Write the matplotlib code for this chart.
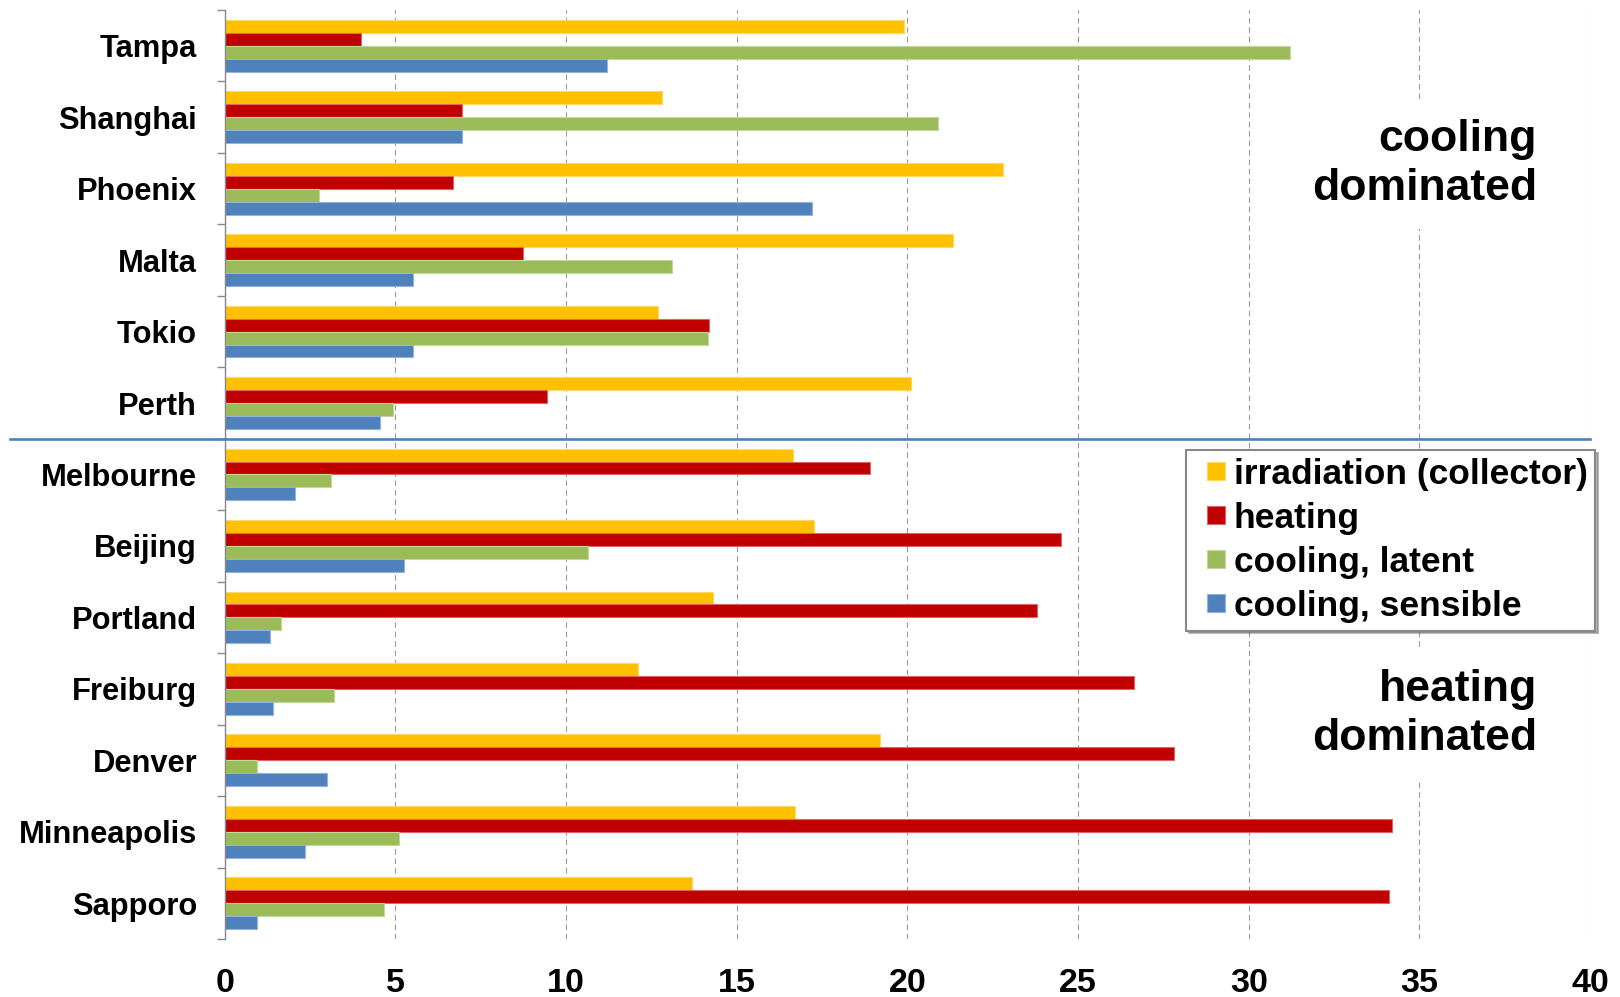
import matplotlib
matplotlib.use("Agg")
import matplotlib.pyplot as plt
from matplotlib.legend_handler import HandlerPatch
from matplotlib.patches import Rectangle
import numpy as np

plt.rcParams['font.family'] = ['Liberation Sans', 'DejaVu Sans']
plt.rcParams['font.weight'] = 'bold'

cities = ["Tampa", "Shanghai", "Phoenix", "Malta", "Tokio", "Perth",
          "Melbourne", "Beijing", "Portland", "Freiburg", "Denver",
          "Minneapolis", "Sapporo"]

irradiation = [19.9, 12.8, 22.8, 21.35, 12.7, 20.1, 16.65, 17.25, 14.3, 12.1, 19.2, 16.7, 13.7]
heating = [4.0, 6.95, 6.7, 8.75, 14.2, 9.45, 18.9, 24.5, 23.8, 26.65, 27.8, 34.2, 34.1]
cooling_latent = [31.2, 20.9, 2.75, 13.1, 14.15, 4.93, 3.1, 10.65, 1.65, 3.2, 0.95, 5.1, 4.65]
cooling_sensible = [11.2, 6.95, 17.2, 5.5, 5.5, 4.55, 2.05, 5.25, 1.33, 1.4, 3.0, 2.35, 0.95]

series_labels = ["irradiation (collector)", "heating", "cooling, latent", "cooling, sensible"]
series_values = [irradiation, heating, cooling_latent, cooling_sensible]
series_colors = ["#FFC000", "#C00000", "#9BBB59", "#4F81BD"]
edge_colors = ["#FFD966", "#E06666", "#C3D69B", "#95B3D7"]

x_ticks = [0, 5, 10, 15, 20, 25, 30, 35, 40]

W, H = 1620, 997
fig = plt.figure(figsize=(W / 100, H / 100), dpi=100)
ax = fig.add_axes([224.8 / W, 1 - 939 / H, (1590 - 224.8) / W, (939 - 10) / H])

y = np.arange(len(cities))
bar_h = 0.181
bars = []
for k, (vals, col, ecol, lab) in enumerate(zip(series_values, series_colors, edge_colors, series_labels)):
    b = ax.barh(y + (k - 1.5) * bar_h, vals, height=bar_h, color=col,
                edgecolor=ecol, linewidth=0.8, label=lab, zorder=2)
    bars.append(b)

ax.set_xlim(0, 40)
ax.set_ylim(len(cities) - 0.5, -0.5)

# x axis: bold numbers, no spine, no tick marks
ax.set_xticks(x_ticks)
ax.set_xticklabels([str(t) for t in x_ticks], fontsize=24.5, fontweight='bold')
ax.tick_params(axis='x', length=0, pad=21)

# y axis: city names centred on each band, tick marks on band boundaries
ax.set_yticks(y)
ax.set_yticklabels(cities, fontsize=22.2, fontweight='bold')
ax.set_yticks(np.arange(-0.5, len(cities), 1.0), minor=True)
ax.tick_params(axis='y', which='major', length=0, pad=20)
ax.tick_params(axis='y', which='minor', length=5.8, width=1.0, color='#888888', direction='out')

for side in ['top', 'right', 'bottom']:
    ax.spines[side].set_visible(False)
ax.spines['left'].set_color('#888888')
ax.spines['left'].set_linewidth(1.0)

ax.set_axisbelow(True)
ax.xaxis.grid(True, color='#9a9a9a', linewidth=0.8, linestyle=(0, (5, 3.5)))
ax.yaxis.grid(False)

# divider between cooling- and heating-dominated climates
ax.plot([(10 - 224.8) / (1590 - 224.8), 1.0], [5.5, 5.5],
        transform=ax.get_yaxis_transform(), clip_on=False,
        color='#4F81BD', linewidth=1.9, zorder=4)

box = dict(boxstyle='square,pad=0.45', facecolor='white', edgecolor='none')
ax.text(1537 / W, 1 - 164 / H, "cooling\ndominated", transform=fig.transFigure,
        ha='right', va='center', multialignment='right', fontsize=32,
        fontweight='bold', linespacing=1.28, bbox=box, zorder=3)
ax.text(1537 / W, 1 - 714 / H, "heating\ndominated", transform=fig.transFigure,
        ha='right', va='center', multialignment='right', fontsize=32,
        fontweight='bold', linespacing=1.28, bbox=box, zorder=3)


def square_patch(legend, orig_handle, xdescent, ydescent, width, height, fontsize):
    # small square key, pushed to the right end of the handle box
    side = 0.52 * fontsize
    return Rectangle((width - side - xdescent, (height - side) / 2 - ydescent), side, side)


leg = ax.legend(handles=[b.patches[0] for b in bars], labels=series_labels,
                handler_map={Rectangle: HandlerPatch(patch_func=square_patch)},
                loc='upper left', bbox_to_anchor=(1186 / W, 1 - 450 / H),
                bbox_transform=fig.transFigure, borderaxespad=0,
                prop={'size': 25.5, 'weight': 'bold'},
                handlelength=0.88, handleheight=0.52, handletextpad=0.25,
                labelspacing=0.31, borderpad=0.22, fancybox=False,
                framealpha=1, edgecolor='#888888',
                shadow={'color': '#666666', 'alpha': 0.45})
leg.get_frame().set_linewidth(1.5)
leg.set_zorder(5)

fig.savefig("out.png", dpi=100)
